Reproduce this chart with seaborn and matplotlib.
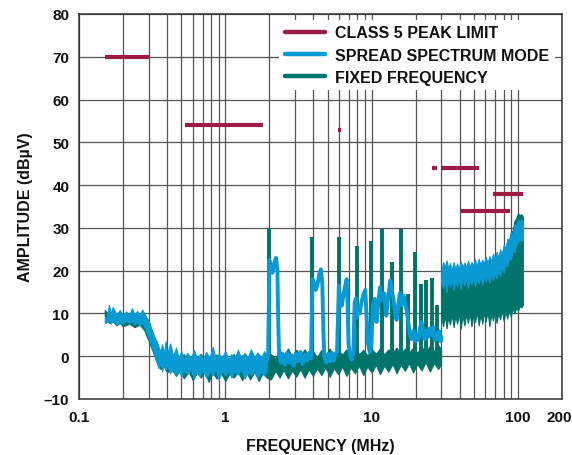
import matplotlib
matplotlib.use("Agg")
import matplotlib.pyplot as plt
import matplotlib.transforms as mtransforms
from matplotlib.lines import Line2D
import seaborn as sns

# ---- data ----
# class 5 peak limit segments (MHz, MHz, dBuV)
lim_start = [0.15, 0.53, 5.9, 26.0, 30.0, 41.0, 68.0]
lim_stop = [0.30, 1.80, 6.2, 28.0, 54.0, 88.0, 108.0]
lim_level = [70, 54, 53, 44, 44, 34, 38]

# spread spectrum: noise floor band below 2 MHz
ss_floor_f = [0.15, 0.155, 0.16, 0.165, 0.17, 0.18, 0.19, 0.2, 0.21, 0.22, 0.23, 0.24,
              0.25, 0.26, 0.27, 0.28, 0.29, 0.3, 0.31, 0.32, 0.33, 0.34, 0.35, 0.36,
              0.37, 0.38, 0.39, 0.40, 0.42, 0.44, 0.46, 0.48, 0.50, 0.52, 0.55, 0.58,
              0.61, 0.64, 0.67, 0.70, 0.74, 0.78, 0.82, 0.86, 0.90, 0.95, 1.0, 1.05,
              1.1, 1.16, 1.22, 1.28, 1.35, 1.42, 1.5, 1.58, 1.66, 1.75, 1.84, 1.92]
ss_floor_hi = [9.0, 9.2, 12.0, 10.0, 11.5, 9.8, 10.8, 9.5, 10.5, 9.6, 11.2, 9.8,
               10.6, 9.4, 10.9, 10.0, 9.0, 8.2, 6.8, 5.5, 4.2, 3.5, 2.2, 1.0,
               2.8, 0.3, 3.5, 0.5, 3.0, 0.0, 2.0, -0.5, 1.2, -0.8, 0.8, -0.6,
               1.5, -0.5, 0.5, -0.8, 1.0, -0.5, 2.2, -0.6, 0.6, -0.3, 1.2, -0.7,
               0.5, -0.4, 1.5, -0.5, 0.8, -0.3, 1.6, -0.2, 0.9, -0.5, 1.2, 0.0]
ss_floor_lo = [7.8, 8.0, 8.2, 7.6, 8.5, 7.4, 8.0, 7.6, 8.3, 7.8, 8.2, 7.5,
               8.0, 7.2, 7.8, 6.8, 5.5, 4.2, 2.8, 1.5, 0.0, -1.5, -2.8, -1.5,
               -3.5, -2.0, -3.2, -2.0, -4.0, -2.8, -4.5, -3.0, -4.8, -3.2, -4.2, -3.0,
               -5.2, -3.5, -4.6, -3.2, -5.0, -3.6, -4.4, -3.0, -5.5, -3.4, -4.5, -3.2,
               -5.0, -3.5, -4.3, -3.0, -5.2, -3.8, -4.4, -3.2, -5.0, -3.6, -4.5, -3.3]

# spread spectrum: trace 2 - 30 MHz
ss_trace_f = [1.92, 1.96, 1.99, 2.0, 2.05, 2.1, 2.15, 2.22, 2.27, 2.3, 2.33, 2.4,
              2.48, 2.56, 2.65, 2.74, 2.83, 2.93, 3.03, 3.14, 3.25, 3.37, 3.5, 3.62,
              3.75, 3.85, 3.9, 3.95, 4.05, 4.15, 4.25, 4.4, 4.5, 4.6, 4.68, 4.75,
              4.9, 5.05, 5.2, 5.35, 5.5, 5.65, 5.8, 5.9, 5.97, 6.1, 6.25, 6.4,
              6.6, 6.75, 6.85, 6.95, 7.1, 7.3, 7.5, 7.65, 7.8, 7.95, 8.1, 8.3,
              8.5, 8.8, 9.05, 9.25, 9.45, 9.7, 9.95, 10.2, 10.5, 10.8, 11.1, 11.4,
              11.8, 12.2, 12.6, 13.0, 13.4, 13.8, 14.1, 14.5, 14.8, 15.2, 15.6, 16.0,
              16.5, 17.0, 17.3, 17.8, 18.3, 18.8, 19.4, 19.9, 20.3, 20.9, 21.4, 21.9,
              22.5, 23.1, 23.7, 24.3, 25.0, 25.7, 26.4, 27.0, 27.6, 28.3, 29.0, 29.7, 30.0]
ss_trace_v = [-1.0, 0.5, 15.0, 22.5, 21.0, 19.5, 21.5, 23.0, 20.0, 8.0, 0.5, -1.5,
              0.5, -2.0, 0.8, -1.5, 0.2, -2.2, 0.6, -1.2, 1.0, -1.8, 0.4, -1.0,
              0.8, -0.5, 10.0, 18.0, 17.0, 15.5, 16.5, 19.5, 20.3, 17.0, 6.0, 0.0,
              -1.5, 0.5, -1.2, 0.8, -1.0, 0.5, 1.0, 10.0, 16.5, 13.0, 11.8, 14.0,
              16.5, 18.0, 12.0, 3.0, 0.5, -0.8, 0.8, 12.5, 13.5, 9.0, 11.5, 10.0,
              12.5, 14.5, 15.5, 9.0, 3.0, 1.0, 2.5, 12.0, 13.4, 8.0, 12.5, 16.1,
              13.0, 14.7, 9.5, 14.0, 17.7, 15.0, 13.4, 10.0, 8.5, 12.0, 14.7, 12.0,
              14.2, 12.0, 10.9, 8.0, 5.0, 4.0, 6.0, 3.5, 5.0, 3.8, 6.5, 8.0,
              5.5, 4.0, 6.0, 4.5, 6.5, 5.0, 6.8, 3.8, 5.5, 4.0, 5.8, 3.5, 4.5]

# both modes: band 30 - 108 MHz
band_f = [30.0, 30.8, 31.6, 32.5, 33.4, 34.3, 35.3, 36.3, 37.3, 38.4, 39.5, 40.6,
          41.8, 43.0, 44.2, 45.5, 46.8, 48.1, 49.5, 50.9, 52.4, 53.9, 55.4, 57.0,
          58.6, 60.3, 62.0, 63.8, 65.6, 67.5, 69.4, 71.4, 73.4, 75.5, 77.7, 79.9,
          82.2, 84.5, 86.9, 89.4, 92.0, 94.6, 97.3, 100.0, 102.8, 105.7, 108.0]
ss_band_hi = [20.0, 22.0, 20.8, 22.4, 20.6, 21.8, 20.2, 22.0, 20.5, 21.6, 20.4, 22.2,
              20.8, 21.9, 20.6, 22.3, 21.0, 22.0, 21.2, 22.6, 21.0, 22.8, 21.4, 22.6,
              21.6, 23.2, 21.8, 23.4, 22.2, 24.0, 22.6, 24.4, 23.0, 25.0, 24.0, 26.0,
              25.2, 27.5, 27.0, 29.0, 28.6, 30.8, 30.5, 32.0, 31.2, 32.0, 31.0]
ss_band_lo = [17.0, 16.0, 17.5, 15.0, 17.8, 16.2, 18.0, 15.5, 17.6, 16.4, 18.0, 15.8,
              17.8, 16.6, 18.2, 16.0, 18.0, 16.8, 18.4, 16.4, 18.2, 17.0, 18.6, 16.8,
              18.8, 17.4, 19.0, 17.2, 19.2, 17.8, 19.6, 18.2, 20.0, 18.8, 20.6, 19.6,
              21.4, 21.0, 23.0, 22.6, 24.6, 24.4, 26.2, 26.6, 27.4, 27.0, 27.2]
ff_band_hi = [19.5, 20.5, 19.8, 20.8, 19.6, 20.6, 19.8, 20.8, 19.6, 20.4, 19.8, 20.8,
              20.0, 20.6, 20.0, 21.0, 20.2, 21.0, 20.4, 21.2, 20.6, 21.4, 20.8, 21.6,
              21.0, 22.0, 21.2, 22.2, 21.6, 22.6, 22.0, 23.2, 22.6, 24.0, 23.4, 25.0,
              24.8, 26.6, 26.8, 28.8, 29.4, 31.6, 32.2, 33.4, 33.0, 33.2, 32.6]
ff_band_lo = [9.0, 7.0, 9.5, 6.5, 9.2, 7.4, 9.8, 6.8, 9.4, 7.6, 10.0, 6.4,
              9.6, 7.2, 9.8, 7.8, 10.2, 7.0, 9.6, 8.0, 10.4, 7.2, 9.8, 7.6,
              10.2, 8.2, 10.6, 7.0, 9.8, 8.4, 10.6, 7.8, 10.2, 8.6, 10.8, 8.2,
              10.6, 8.8, 11.0, 9.2, 11.2, 10.0, 11.4, 10.6, 11.8, 11.4, 12.0]

# fixed frequency: noise floor 0.15 - 30 MHz
ff_floor_f = [0.15, 0.16, 0.17, 0.18, 0.19, 0.2, 0.22, 0.24, 0.26, 0.28, 0.3, 0.32,
              0.34, 0.36, 0.38, 0.40, 0.43, 0.46, 0.49, 0.52, 0.56, 0.60, 0.64, 0.68,
              0.72, 0.77, 0.82, 0.87, 0.93, 1.0, 1.07, 1.14, 1.22, 1.3, 1.39, 1.48,
              1.58, 1.69, 1.8, 1.92, 2.05, 2.2, 2.35, 2.5, 2.68, 2.86, 3.05, 3.26,
              3.48, 3.72, 3.97, 4.24, 4.53, 4.84, 5.17, 5.52, 5.9, 6.3, 6.73, 7.19,
              7.68, 8.2, 8.76, 9.36, 10.0, 10.7, 11.4, 12.2, 13.0, 13.9, 14.8, 15.8,
              16.9, 18.0, 19.2, 20.5, 21.9, 23.4, 25.0, 26.7, 28.5, 29.8]
ff_floor_hi = [10.8, 9.8, 9.0, 9.6, 8.8, 9.5, 8.6, 9.4, 8.8, 9.0, 7.5, 5.0,
               2.5, 1.0, 0.5, 1.2, -0.5, 0.8, -1.0, 0.5, -1.2, 0.2, -1.0, 0.6,
               -1.5, 0.0, -1.2, 0.4, -1.4, 0.2, -1.0, 0.5, -1.3, 0.3, -1.1, 0.6,
               -1.0, 0.4, -0.8, 0.3, 0.5, -0.5, 1.5, 0.0, 1.8, -0.2, 1.5, 0.2,
               1.6, 0.0, 1.2, -0.2, 1.5, 0.3, 1.8, 0.0, 1.4, 0.4, 1.6, 0.2,
               1.8, 0.5, 1.5, 0.2, 1.7, 0.6, 1.8, 0.4, 1.6, 0.8, 2.0, 0.6,
               1.8, 0.8, 2.0, 0.8, 2.2, 1.0, 2.4, 1.2, 2.6, 1.6]
ff_floor_lo = [9.5, 7.8, 8.2, 7.2, 7.8, 7.0, 7.6, 6.8, 7.4, 6.0, 3.5, 1.0,
               -1.5, -3.0, -2.2, -3.8, -3.0, -4.6, -3.3, -5.2, -3.6, -5.6, -3.8, -5.0,
               -3.6, -6.0, -3.8, -5.2, -3.8, -5.8, -4.0, -5.0, -3.6, -5.6, -3.8, -5.4,
               -3.6, -5.8, -3.9, -5.0, -5.4, -3.4, -5.0, -3.2, -5.2, -3.3, -4.8, -3.0,
               -5.0, -3.1, -4.6, -2.8, -4.4, -2.6, -4.8, -2.8, -4.2, -2.4, -4.6, -2.6,
               -4.0, -2.2, -4.4, -2.4, -3.8, -2.0, -4.2, -2.2, -3.6, -1.8, -4.0, -2.0,
               -3.4, -1.6, -3.8, -1.8, -3.3, -1.4, -3.6, -1.6, -3.0, -1.8]

# fixed frequency: switching harmonics (MHz, dBuV)
spike_f = [1.99, 3.92, 5.98, 7.9, 9.9, 11.8, 13.8, 15.8, 17.8, 19.7, 21.8, 23.5, 25.7, 28.0]
spike_top = [30.0, 27.9, 27.8, 25.8, 26.9, 29.8, 22.1, 29.7, 14.5, 24.4, 17.0, 17.8, 18.2, 12.0]

x_ticks = [0.1, 1, 10, 100, 200]
x_labels = ["0.1", "1", "10", "100", "200"]
x_minor = [0.2, 0.3, 0.4, 0.5, 0.6, 0.7, 0.8, 0.9, 2, 3, 4, 5, 6, 7, 8, 9,
           20, 30, 40, 50, 60, 70, 80, 90]
y_ticks = [-10, 0, 10, 20, 30, 40, 50, 60, 70, 80]
y_labels = ["\u201310", "0", "10", "20", "30", "40", "50", "60", "70", "80"]

MAROON = "#9c1c44"
BLUE = "#0a9ad3"
TEAL = "#00746b"
GRID = "#555555"
INK = "#111111"

sns.set_style("white")
plt.rcParams["font.family"] = ["Liberation Sans", "DejaVu Sans"]
plt.rcParams["font.weight"] = "bold"

fig = plt.figure(figsize=(5.72, 4.56), dpi=100)
ax = fig.add_axes([79 / 572, 56 / 456, 483 / 572, 385 / 456])
ax.set_xscale("log")

# fixed frequency (drawn first, under spread spectrum)
ax.fill_between(ff_floor_f, ff_floor_lo, ff_floor_hi, color=TEAL, lw=0.8, zorder=2)
ax.vlines(spike_f, 0, spike_top, color=TEAL, lw=2.8, zorder=2)
ax.fill_between(band_f, ff_band_lo, ff_band_hi, color=TEAL, lw=0.8, zorder=2)

# spread spectrum
ax.fill_between(ss_floor_f, ss_floor_lo, ss_floor_hi, color=BLUE, lw=0.8, zorder=3)
sns.lineplot(x=ss_trace_f, y=ss_trace_v, color=BLUE, lw=2.8, estimator=None, ax=ax, zorder=3)
ax.fill_between(band_f, ss_band_lo, ss_band_hi, color=BLUE, lw=0.8, zorder=3)

# limits
ax.hlines(lim_level, lim_start, lim_stop, color=MAROON, lw=3, zorder=4)

ax.set_xlim(0.1, 200)
ax.set_ylim(-10, 80)
ax.set_xticks(x_ticks)
ax.set_xticklabels(x_labels)
ax.set_xticks(x_minor, minor=True)
ax.set_xticklabels([], minor=True)
ax.set_yticks(y_ticks)
ax.set_yticklabels(y_labels)
ax.tick_params(which="both", length=0, labelsize=11, labelcolor=INK)
ax.tick_params(axis="x", pad=8)
ax.tick_params(axis="y", pad=7)
# nudge the "200" label so it stays inside the figure
last = ax.get_xticklabels()[-1]
last.set_transform(last.get_transform() + mtransforms.ScaledTranslation(-3 / 100, 0, fig.dpi_scale_trans))
ax.grid(which="both", color=GRID, lw=0.9)
ax.set_axisbelow(True)
for s in ax.spines.values():
    s.set_color("#333333")
    s.set_linewidth(1.1)

ax.set_xlabel("FREQUENCY (MHz)", fontsize=11.5, fontweight="bold", labelpad=10, color=INK)
ax.set_ylabel("AMPLITUDE (dB\u00b5V)", fontsize=11.5, fontweight="bold", labelpad=8, color=INK)

handles = [Line2D([], [], color=MAROON, lw=3.2),
           Line2D([], [], color=BLUE, lw=3.2),
           Line2D([], [], color=TEAL, lw=3.2)]
labels = ["CLASS 5 PEAK LIMIT", "SPREAD SPECTRUM MODE", "FIXED FREQUENCY"]
leg = ax.legend(handles, labels, loc="upper left", bbox_to_anchor=(0.415, 0.985),
                borderaxespad=0, frameon=True, fancybox=False, framealpha=1,
                facecolor="white", edgecolor="none", fontsize=11.5,
                handlelength=2.5, handletextpad=0.65, labelspacing=0.45, borderpad=0.35)
for t in leg.get_texts():
    t.set_fontweight("bold")
    t.set_color(INK)
leg.set_zorder(5)

fig.savefig("out.png", dpi=100)
